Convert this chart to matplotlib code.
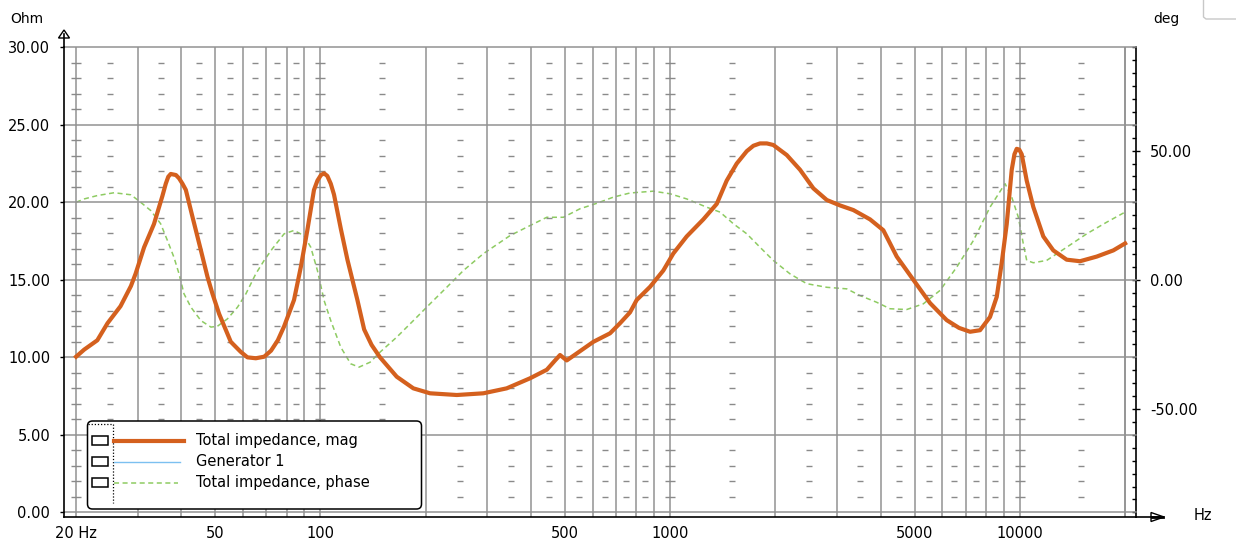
import matplotlib
matplotlib.use('Agg')
import matplotlib.pyplot as plt
from matplotlib.patches import FancyBboxPatch, Rectangle, Polygon
from matplotlib.lines import Line2D
from matplotlib.transforms import IdentityTransform
from matplotlib.ticker import MultipleLocator, NullLocator, NullFormatter

# ---------------- data ----------------
mag_freq = [20.0, 21.1, 23.0, 24.6, 26.8, 28.7, 29.6, 31.3, 33.4, 35.3, 36.1, 36.7, 37.3,
            38.6, 39.4, 40.3, 41.2, 43.0, 45.5, 47.5, 49.1, 51.3, 55.4, 59.1, 61.8, 65.3,
            69.0, 72.2, 75.5, 78.7,
            84.0, 87.8, 91.7, 95.8, 98.0, 100.3, 102.4, 104.6, 107.0, 109.3, 114.3, 119.4,
            127.5, 133.3, 140.0, 148.0,
            165.2, 184.3, 205.7, 245.4, 292.2, 340.8, 397.6, 443.8, 468.6, 484.2,
            506.0, 540.5, 603.0, 673.0, 718.7, 767.6, 802.2, 876.0, 955.8, 1021,
            1115, 1244, 1359, 1451, 1550, 1656, 1730, 1807, 1890, 1972, 2155, 2352, 2568, 2805,
            3060, 3342, 3729, 4070, 4446, 4960, 5536, 6178, 6700, 7205, 7694, 8216, 8588,
            8876, 9173, 9480, 9650, 9796, 9960, 10124, 10463, 10928, 11671, 12464, 13614, 14862,
            16590, 18510, 20000]
mag_ohm = [10.04, 10.5, 11.1, 12.2, 13.3, 14.6, 15.4, 17.1, 18.6, 20.4, 21.2, 21.65, 21.83,
           21.76, 21.55, 21.2, 20.8, 19.1, 16.9, 15.2, 14.1, 12.8, 11.0, 10.36, 10.0, 9.94,
           10.04, 10.43, 11.1, 12.0,
           13.7, 15.8, 18.2, 20.8, 21.4, 21.76, 21.87, 21.7, 21.2, 20.5, 18.3, 16.3,
           13.7, 11.8, 10.8, 10.0,
           8.75, 8.0, 7.68, 7.57, 7.68, 8.0, 8.65, 9.2, 9.8, 10.15,
           9.8, 10.25, 11.0, 11.55, 12.2, 12.9, 13.7, 14.55, 15.6, 16.7,
           17.8, 18.9, 19.9, 21.4, 22.5, 23.3, 23.65, 23.8, 23.8, 23.7, 23.05, 22.1, 20.9, 20.15,
           19.8, 19.5, 18.9, 18.2, 16.5, 15.0, 13.5, 12.4, 11.9, 11.65, 11.75, 12.6, 13.9,
           16.1, 18.6, 22.1, 23.1, 23.45, 23.4, 23.1, 21.4, 19.7, 17.8, 16.9, 16.3, 16.2,
           16.5, 16.9, 17.35]

phase_freq = [20.0, 21.1, 23.0, 25.7, 28.7, 30.6, 32.7, 34.9, 36.5, 38.1, 39.4, 40.7,
              42.6, 45.5, 48.6, 50.7, 54.2, 57.9, 61.2, 65.3, 69.0, 72.8, 78.7, 84.0,
              89.7, 93.8, 98.0, 102.4, 107.0, 114.3, 122.0, 128.9, 138.6, 148.0,
              165.2, 184.3, 205.7, 229.6, 256.3, 292.2, 348.3, 397.6, 443.8, 495,
              552.4, 616.6, 688.1, 767.6, 820, 895, 999, 1115, 1272, 1389, 1516, 1656,
              1807, 1972, 2202, 2458, 2805, 3199, 3491, 3896, 4253, 4748, 5297, 5913,
              6600, 7364, 8216, 9073, 9480, 9903, 10232, 10463, 10928, 11932, 13614,
              15531, 17720, 20000]
phase_deg = [30.0, 31.3, 32.6, 33.7, 32.9, 30.0, 26.8, 21.7, 15.2, 8.7, 2.3, -5.4,
             -10.6, -15.8, -18.3, -18.0, -15.1, -10.6, -5.4, 2.3, 7.5, 12.0, 17.8, 19.1,
             17.1, 12.6, 3.6, -8.0, -15.8, -26.1, -32.5, -33.8, -31.9, -28.0,
             -22.2, -15.8, -9.3, -2.9, 3.6, 10.1, 17.1, 21.0, 24.2, 24.2,
             27.5, 29.6, 32.0, 33.6, 33.9, 34.3, 33.3, 31.3, 28.1, 26.2, 21.7, 17.8,
             12.6, 7.5, 2.3, -1.5, -2.9, -3.5, -6.1, -8.7, -11.2, -11.5, -9.3, -4.1,
             4.9, 15.2, 28.1, 37.2, 32.0, 24.2, 13.9, 7.5, 6.6, 7.5, 12.6,
             17.8, 22.3, 26.2]

xtick_vals = [20, 50, 100, 500, 1000, 5000, 10000]
xtick_labels = ["20 Hz", "50", "100", "500", "1000", "5000", "10000"]
ytick_vals = [0, 5, 10, 15, 20, 25, 30]
ytick_labels = ["0.00", "5.00", "10.00", "15.00", "20.00", "25.00", "30.00"]
y2tick_vals = [-50, 0, 50]
y2tick_labels = ["-50.00", "0.00", "50.00"]
legend_labels = ["Total impedance, mag", "Generator 1", "Total impedance, phase"]

# ---------------- style ----------------
W, H = 1236, 545
ORANGE = '#D4601E'
GREEN = '#8ECB62'
BLUE = '#7CC0F0'
GRID = '#929292'
DASH = '#8a8a8a'
FS = 10.5
plt.rcParams['font.family'] = ['DejaVu Sans']

fig = plt.figure(figsize=(W / 100, H / 100), dpi=100)
fig.patch.set_facecolor('white')

L, R, T, B = 64, 1136, 47, 517
ax = fig.add_axes([L / W, 1 - B / H, (R - L) / W, (B - T) / H])
ax2 = ax.twinx()
ax.set_zorder(ax2.get_zorder() + 1)
ax.patch.set_visible(False)
ax2.patch.set_visible(True)
ax2.patch.set_facecolor('white')

ax.set_xscale('log')
ax.set_xlim(18.47, 21488)
ax.set_ylim(-0.30, 30.02)
ax2.set_ylim(-91.8, 90.1)

# grid lines
grid_freqs = []
for dec in [10, 100, 1000, 10000]:
    for m in range(1, 10):
        f = dec * m
        if 20 <= f <= 20000:
            grid_freqs.append(f)
grid_freqs.append(20000)
for f in grid_freqs:
    ax.axvline(f, color=GRID, lw=1.1, zorder=1)
for h in range(0, 31, 5):
    ax.axhline(h, color=GRID, lw=1.1, zorder=1, clip_on=False)

# small dash marks
half_x = []
for dec in [10, 100, 1000, 10000]:
    for m in range(1, 9):
        f = dec * (m + 0.5)
        if 20 <= f <= 20000:
            half_x.append(f)
dec_x = [20, 100, 1000, 10000]
minor_y = [v for v in range(1, 30) if v % 5 != 0]
hx, hy, dx, dy = [], [], [], []
for yv in minor_y:
    for xv in half_x:
        hx.append(xv); hy.append(yv)
    for xv in dec_x:
        dx.append(xv); dy.append(yv)
ax.plot(hx, hy, ls='none', marker='_', ms=4, mew=1.0, color=DASH, zorder=1)
ax.plot(dx, dy, ls='none', marker='_', ms=6.5, mew=1.0, color=DASH, zorder=1)

# curves
ax2.plot(phase_freq, phase_deg, color=GREEN, lw=1.1, dashes=(3.3, 2.3), zorder=3)
ax.plot(mag_freq, mag_ohm, color=ORANGE, lw=3.0, zorder=5, solid_joinstyle='round')

# spines
for a in (ax, ax2):
    for s in a.spines.values():
        s.set_visible(False)
for s in ('left', 'bottom'):
    ax.spines[s].set_visible(True)
    ax.spines[s].set_color('black')
    ax.spines[s].set_linewidth(1.2)
ax2.spines['right'].set_visible(True)
ax2.spines['right'].set_color('black')
ax2.spines['right'].set_linewidth(1.2)

# ticks
ax.set_xticks(xtick_vals)
ax.set_xticklabels(xtick_labels)
ax.xaxis.set_minor_locator(NullLocator())
ax.xaxis.set_minor_formatter(NullFormatter())
ax.tick_params(axis='x', length=0, pad=6.5, labelsize=FS)
ax.set_yticks(ytick_vals)
ax.set_yticklabels(ytick_labels)
ax.tick_params(axis='y', direction='out', length=3, width=1, pad=7, labelsize=FS)
ax2.set_yticks(y2tick_vals)
ax2.set_yticklabels(y2tick_labels)
ax2.yaxis.set_minor_locator(MultipleLocator(5))
ax2.tick_params(axis='y', which='major', direction='inout', length=6, width=1, pad=7, labelsize=FS)
ax2.tick_params(axis='y', which='minor', direction='in', length=3, width=1)

# ---------------- figure-level decorations (pixel coords) ----------------
I = IdentityTransform()

def P(x, y):
    return (x, H - y)

def add_line(xs, ys, **kw):
    fig.add_artist(Line2D(xs, [H - y for y in ys], transform=I, **kw))

# axis extensions and arrows
add_line([64, 64], [47, 34], color='black', lw=1.2)
fig.add_artist(Polygon([P(64, 30), P(58.5, 38), P(69.5, 38)], closed=True,
                       fc='white', ec='black', lw=1.0, transform=I))
add_line([1136, 1163], [517, 517], color='black', lw=1.2)
fig.add_artist(Polygon([P(1151, 512.5), P(1151, 521.5), P(1164, 517)], closed=True,
                       fc='white', ec='black', lw=1.0, transform=I))
add_line([1152, 1163], [517, 517], color='black', lw=2.0)

# unit labels
fig.text(*P(27, 19), "Ohm", transform=I, ha='center', va='center', fontsize=FS - 0.5)
fig.text(*P(1166, 19), "deg", transform=I, ha='center', va='center', fontsize=FS - 0.5)
fig.text(*P(1203, 515), "Hz", transform=I, ha='center', va='center', fontsize=FS)

# top-right corner fragment
add_line([1203.5, 1203.5, 1206, 1236], [0, 17, 19, 19], color='#C8C8C8', lw=1.0)

# legend
lx0, ly0, lx1, ly1 = 87.5, 421, 421.5, 509
fig.add_artist(FancyBboxPatch(P(lx0, ly1), lx1 - lx0, ly1 - ly0,
                              boxstyle="round,pad=0,rounding_size=5",
                              fc='white', ec='black', lw=1.1, transform=I, zorder=10))
add_line([88, 113], [424, 424], color='black', lw=0.9, ls=(0, (1, 1.5)), zorder=11)
add_line([113, 113], [424, 503], color='black', lw=0.9, ls=(0, (1, 1.5)), zorder=11)
rows = [440.7, 461.7, 482.7]
styles = [dict(color=ORANGE, lw=3.0), dict(color=BLUE, lw=1.0),
          dict(color=GREEN, lw=1.1, dashes=(3.3, 2.3))]
ends = [184, 180, 178]
for ry, lab, st, xe in zip(rows, legend_labels, styles, ends):
    fig.add_artist(Rectangle(P(92, ry + 4.5), 16, 9, fc='none', ec='black', lw=1.1,
                             transform=I, zorder=11))
    add_line([114, xe], [ry, ry], zorder=11, **st)
    fig.text(*P(196, ry), lab, transform=I, ha='left', va='center', fontsize=FS,
             zorder=12)

fig.savefig('out.png', dpi=100, facecolor='white')
